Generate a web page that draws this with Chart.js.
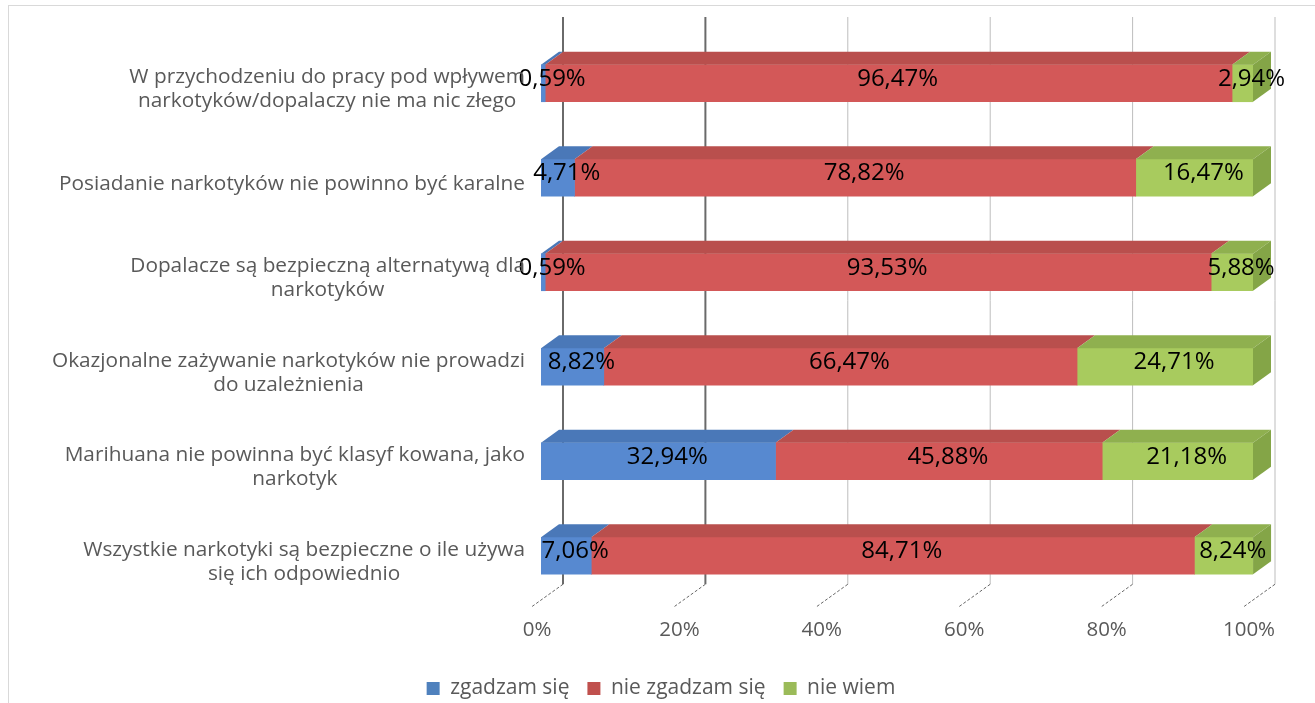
<!DOCTYPE html>
<html>
<head>
<meta charset="utf-8">
<script src="https://cdn.jsdelivr.net/npm/chart.js@4.4.1/dist/chart.umd.min.js"></script>
<style>
    html, body { margin: 0; padding: 0; background: #fff; }
    #wrap { position: relative; width: 1315px; height: 703px; overflow: hidden; }
    #frame { position: absolute; left: 8px; top: 5px; width: 1320px; height: 720px; border: 1px solid #d9d9d9; }
    #chart { position: absolute; left: 0; top: 0; }
</style>
</head>
<body>
<div id="wrap">
    <div id="frame"></div>
    <canvas id="chart" width="1315" height="703"></canvas>
</div>
<script>
'use strict';

// ─── Données ────────────────────────────────────────────────────────────────
var categories = [
    ['W przychodzeniu do pracy pod wpływem', 'narkotyków/dopalaczy nie ma nic złego'],
    ['Posiadanie narkotyków nie powinno być karalne'],
    ['Dopalacze są bezpieczną alternatywą dla', 'narkotyków'],
    ['Okazjonalne zażywanie narkotyków nie prowadzi', 'do uzależnienia'],
    ['Marihuana nie powinna być klasyf kowana, jako', 'narkotyk'],
    ['Wszystkie narkotyki są bezpieczne o ile używa', 'się ich odpowiednio']
];
var seriesNames = ['zgadzam się', 'nie zgadzam się', 'nie wiem'];
var zgadzam = [0.59, 4.71, 0.59, 8.82, 32.94, 7.06];
var nieZgadzam = [96.47, 78.82, 93.53, 66.47, 45.88, 84.71];
var nieWiem = [2.94, 16.47, 5.88, 24.71, 21.18, 8.24];
var xTicks = [0, 20, 40, 60, 80, 100];

var COLORS = {
    front: ['#5789d0', '#d35858', '#a8cb5e'],
    top:   ['#4a78b8', '#b94f4d', '#8fb04f'],
    side:  ['#3f6aa6', '#a84745', '#84a547'],
    legend: ['#4f81bd', '#c0504d', '#9bbb59'],
    text: '#595959'
};

var DEPTH_X = 18, DEPTH_Y = -13, WALL_X = 22;

function fmt(v) {
    return v.toFixed(2).replace('.', ',') + '%';
}

// ─── Effet 3D + grille du fond + libellés ───────────────────────────────────
var bar3d = {
    id: 'bar3d',
    beforeDatasetsDraw: function(chart) {
        var c = chart.ctx, xs = chart.scales.x, area = chart.chartArea;
        var last = chart.getDatasetMeta(0).data[categories.length - 1];
        var floorY = last.y + last.height / 2;
        c.save();
        xTicks.forEach(function(v, i) {
            var bx = xs.getPixelForValue(v) + WALL_X;
            c.strokeStyle = i < 2 ? '#6a6a6a' : '#bdbdbd';
            c.lineWidth = i < 2 ? 2 : 1;
            c.beginPath();
            c.moveTo(bx, area.top - 19);
            c.lineTo(bx, floorY + 10);
            c.stroke();
            // petite marque en perspective sur le sol
            c.strokeStyle = '#666';
            c.lineWidth = 1;
            c.setLineDash([3, 2]);
            c.beginPath();
            c.moveTo(bx, floorY + 10);
            c.lineTo(bx - 32, floorY + 33);
            c.stroke();
            c.setLineDash([]);
        });
        c.restore();
    },
    afterDatasetsDraw: function(chart) {
        var c = chart.ctx;
        var nSets = chart.data.datasets.length;
        c.save();
        for (var d = 0; d < nSets; d++) {
            var meta = chart.getDatasetMeta(d);
            meta.data.forEach(function(el) {
                var x0 = Math.min(el.base, el.x), x1 = Math.max(el.base, el.x);
                var yT = el.y - el.height / 2, yB = el.y + el.height / 2;
                c.fillStyle = COLORS.top[d];
                c.beginPath();
                c.moveTo(x0, yT);
                c.lineTo(x1, yT);
                c.lineTo(x1 + DEPTH_X, yT + DEPTH_Y);
                c.lineTo(x0 + DEPTH_X, yT + DEPTH_Y);
                c.closePath();
                c.fill();
                if (d === nSets - 1) {
                    c.fillStyle = COLORS.side[d];
                    c.beginPath();
                    c.moveTo(x1, yT);
                    c.lineTo(x1 + DEPTH_X, yT + DEPTH_Y);
                    c.lineTo(x1 + DEPTH_X, yB + DEPTH_Y);
                    c.lineTo(x1, yB);
                    c.closePath();
                    c.fill();
                }
            });
        }
        // étiquettes de valeurs
        c.fillStyle = '#000';
        c.font = '24px "Open Sans"';
        c.textAlign = 'center';
        c.textBaseline = 'middle';
        for (var k = 0; k < nSets; k++) {
            var m = chart.getDatasetMeta(k);
            var vals = chart.data.datasets[k].data;
            m.data.forEach(function(el, i) {
                var cx = (el.base + el.x) / 2 + DEPTH_X / 2;
                c.fillText(fmt(vals[i]), cx, el.y + DEPTH_Y / 2 + 2);
            });
        }
        c.restore();
    },
    afterDraw: function(chart) {
        var c = chart.ctx, ys = chart.scales.y, area = chart.chartArea;
        var right = area.left - 16;
        c.save();
        c.font = '20.8px "Open Sans"';
        c.fillStyle = COLORS.text;
        c.textAlign = 'center';
        c.textBaseline = 'middle';
        categories.forEach(function(lines, i) {
            var w = 0;
            lines.forEach(function(l) { w = Math.max(w, c.measureText(l).width); });
            var cx = right - w / 2;
            var cy = ys.getPixelForValue(i) + 6;
            var y0 = cy - (lines.length - 1) * 12;
            lines.forEach(function(l, j) {
                c.fillText(l, cx, y0 + j * 24);
            });
        });
        c.restore();
    }
};

var ctx = document.getElementById('chart');
var chart = new Chart(ctx, {
    type: 'bar',
    data: {
        labels: categories,
        datasets: [
            { label: seriesNames[0], data: zgadzam, backgroundColor: COLORS.front[0], barThickness: 37 },
            { label: seriesNames[1], data: nieZgadzam, backgroundColor: COLORS.front[1], barThickness: 37 },
            { label: seriesNames[2], data: nieWiem, backgroundColor: COLORS.front[2], barThickness: 37 }
        ]
    },
    options: {
        indexAxis: 'y',
        responsive: false,
        animation: false,
        layout: { padding: { left: 69, right: 62, top: 36, bottom: -6 } },
        plugins: {
            legend: {
                display: true,
                position: 'bottom',
                labels: {
                    boxWidth: 13,
                    boxHeight: 13,
                    padding: 18,
                    color: COLORS.text,
                    font: { family: 'Open Sans', size: 21 },
                    generateLabels: function(ch) {
                        return ch.data.datasets.map(function(ds, i) {
                            return {
                                text: ds.label,
                                fillStyle: COLORS.legend[i],
                                strokeStyle: COLORS.legend[i],
                                lineWidth: 0,
                                fontColor: COLORS.text,
                                datasetIndex: i
                            };
                        });
                    }
                }
            },
            tooltip: { enabled: false }
        },
        scales: {
            x: {
                stacked: true,
                min: 0,
                max: 100,
                afterBuildTicks: function(scale) {
                    scale.ticks = xTicks.map(function(v) { return { value: v }; });
                },
                afterFit: function(scale) { scale.height = 57; },
                grid: { display: false, drawTicks: false },
                border: { display: false },
                ticks: {
                    padding: 15,
                    labelOffset: -4,
                    color: COLORS.text,
                    font: { family: 'Open Sans', size: 20.5 },
                    callback: function(v) { return v + '%'; }
                }
            },
            y: {
                stacked: true,
                display: true,
                afterFit: function(scale) { scale.width = 472; },
                grid: { display: false, drawTicks: false },
                border: { display: false },
                ticks: { display: false }
            }
        }
    },
    plugins: [bar3d]
});
</script>
</body>
</html>
